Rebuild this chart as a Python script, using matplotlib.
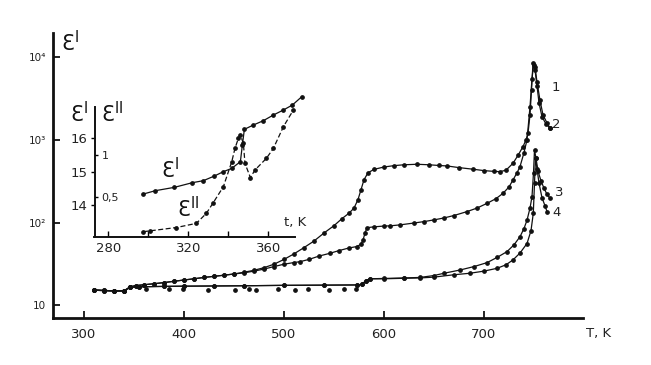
import matplotlib
matplotlib.use("Agg")
import matplotlib.pyplot as plt

# main plot: eps' (log) vs T, K
T1 = [310, 320, 330, 340, 346, 352, 360, 370, 380, 390, 400, 410, 420, 430, 440, 450, 460, 470,
      480, 490, 500, 510, 520, 530, 540, 550, 558, 565, 570, 574, 577, 580, 584, 590, 600, 610,
      620, 633, 645, 655, 663, 675, 689, 700, 710, 716, 722, 729, 734, 739, 742, 744, 746, 747.5,
      749, 751, 753, 755, 758, 762, 766]
eps1 = [15.3, 15.1, 15.0, 15.0, 16.8, 17.4, 17.8, 18.3, 18.9, 19.6, 20.3, 21.0, 21.8, 22.5, 23.2,
        24.0, 25.2, 26.6, 28.6, 31.5, 36, 42, 50, 60, 75, 92, 112, 130, 150, 190, 250, 330, 400,
        440, 470, 488, 500, 507, 500, 490, 484, 462, 442, 425, 416, 413, 430, 521, 650, 828, 1000,
        1200, 2000, 4000, 8400, 7000, 4500, 2800, 1900, 1550, 1390]

T2 = [310, 320, 330, 340, 346, 352, 360, 370, 380, 390, 400, 410, 420, 430, 440, 450, 460, 470,
      480, 490, 500, 510, 516, 525, 535, 546, 555, 565, 573, 577, 579, 581, 583, 590, 600, 606,
      616, 630, 640, 650, 660, 670, 683, 693, 703, 712, 719, 725, 729, 733, 736, 740, 743, 746,
      748, 749.5, 751, 753, 756, 759, 763, 766]
eps2 = [15.3, 15.1, 15.0, 15.0, 16.8, 17.4, 17.8, 18.3, 18.9, 19.6, 20.3, 21.0, 21.8, 22.5, 23.2,
        24.0, 24.8, 26.0, 27.5, 29.5, 31.5, 33.0, 33.8, 36, 39.5, 42.7, 46, 49.5, 51.5, 55, 61.5,
        75, 87, 89, 91, 91.5, 94, 99, 103, 108, 114, 122, 136, 150, 171, 195, 226, 270, 328, 400,
        475, 700, 1000, 2500, 5500, 8000, 7500, 5000, 3000, 2000, 1600, 1390]

T3 = [310, 320, 330, 340, 346, 355, 380, 400, 430, 460, 500, 540, 573, 578, 582, 586, 600, 620,
      636, 650, 660, 676, 690, 703, 713, 723, 730, 736, 740, 743, 746, 748, 749.5, 750.5, 752,
      754, 757, 760, 763, 766]
eps3 = [15.4, 15.2, 15.0, 15.0, 16.5, 16.8, 17.0, 17.1, 17.2, 17.3, 17.5, 17.6, 17.7, 18.0, 20.0,
        21.0, 21.2, 21.5, 21.8, 23.0, 24.5, 26.8, 29.5, 32.9, 38, 44.7, 54, 67.7, 85, 107, 150,
        206, 400, 754, 600, 420, 320, 260, 220, 197]

T4 = [310, 320, 330, 340, 346, 355, 380, 400, 430, 460, 500, 540, 573, 578, 582, 586, 600, 620,
      636, 650, 670, 686, 700, 713, 722, 729, 736, 743, 747, 749.3, 750.5, 751.5, 753, 755, 758,
      761, 763]
eps4 = [15.4, 15.2, 15.0, 15.0, 16.5, 16.8, 17.0, 17.1, 17.2, 17.3, 17.5, 17.6, 17.7, 18.0, 20.0,
        21.0, 21.0, 21.3, 21.5, 22.0, 23.5, 24.5, 26.0, 28.1, 31, 35.5, 43, 56, 80, 130, 300, 600,
        450, 300, 200, 160, 136]

# scattered points under the flat part of curves 3, 4
T_sc = [362, 385, 399, 424, 451, 465, 472, 494, 511, 524, 545, 560, 572]
eps_sc = [15.6, 16.0, 15.6, 15.5, 15.3, 16.0, 15.3, 15.6, 15.2, 15.6, 15.4, 15.8, 15.9]

curve_labels = ["1", "2", "3", "4"]
label_T = [772, 772, 775, 773]
label_eps = [4240, 1550, 229, 131]

# inset: eps' and eps'' vs t, K
t_ep = [297.5, 303.5, 313, 322, 327.5, 333, 337.5, 341.7, 346, 347, 348, 352.5, 357.5, 362.5,
        367.5, 372, 376.7]
ep = [14.33, 14.43, 14.53, 14.67, 14.73, 14.87, 15.0, 15.1, 15.3, 15.8, 16.27, 16.4, 16.53, 16.7,
      16.85, 17.0, 17.25]
t_epp = [297.5, 300.8, 314, 324, 329, 332.5, 337.5, 341.7, 343.3, 345, 346, 347.5, 348.3, 351,
         353.3, 359, 362.5, 367.5, 372.5]
epp = [0.08, 0.09, 0.13, 0.18, 0.30, 0.43, 0.62, 0.92, 1.08, 1.2, 1.24, 1.14, 0.90, 0.73, 0.82,
       0.96, 1.08, 1.34, 1.54]

ink = "#111111"
W, H = 651, 365
fig = plt.figure(figsize=(6.51, 3.65), dpi=100)
fig.patch.set_facecolor("white")

ax = fig.add_axes([53 / W, (H - 318) / H, 530 / W, 285 / H])
ax.set_yscale("log")
for T, e in [(T1, eps1), (T2, eps2), (T3, eps3), (T4, eps4)]:
    ax.plot(T, e, color=ink, lw=0.9, marker="o", ms=2.4, mfc=ink, mec=ink)
ax.plot(T_sc, eps_sc, ls="none", marker="o", ms=2.4, color=ink)
for lab, x, y in zip(curve_labels, label_T, label_eps):
    ax.text(x, y, lab, fontsize=9.5, color="#222222", ha="center", va="center", clip_on=False)

ax.set_xlim(269, 799)
ax.set_ylim(7.06, 19500)
for s in ["top", "right"]:
    ax.spines[s].set_visible(False)
for s in ["left", "bottom"]:
    ax.spines[s].set_linewidth(2.0)
    ax.spines[s].set_color(ink)
ax.set_xticks([300, 400, 500, 600, 700])
ax.set_yticks([10, 100, 1000, 10000])
ax.set_yticklabels(["10", "10²", "10³", "10⁴"])
ax.minorticks_off()
ax.tick_params(axis="x", direction="in", length=5, width=1.2, pad=7, labelsize=9.5,
               labelcolor="#222222")
ax.tick_params(axis="y", direction="in", length=5, width=1.2, pad=5, labelsize=7.5,
               labelcolor="#222222")
ax.text(1.03, -0.055, "T, K", transform=ax.transAxes, fontsize=9.5, color="#222222",
        ha="center", va="center")
ax.text(0.015, 0.965, "Ɛ$^{\\mathrm{I}}$", transform=ax.transAxes, fontsize=15, color=ink,
        ha="left", va="center")

# inset
ins = fig.add_axes([94.5 / W, (H - 236.7) / H, 200.5 / W, 129.7 / H])
ins.patch.set_alpha(0)
ins.plot(t_ep, ep, color=ink, lw=0.9, marker="o", ms=2.4, clip_on=False)
ins.set_xlim(273.1, 373.3)
ins.set_ylim(13.05, 16.94)
for s in ["top", "right"]:
    ins.spines[s].set_visible(False)
for s in ["left", "bottom"]:
    ins.spines[s].set_linewidth(1.4)
    ins.spines[s].set_color(ink)
ins.set_xticks([280, 300, 320, 340, 360])
ins.set_xticklabels(["280", "", "320", "", "360"])
ins.set_yticks([14, 15, 16])
ins.tick_params(axis="x", direction="in", length=4, width=1, pad=4, labelsize=9.5,
                labelcolor="#222222")
ins.tick_params(axis="y", direction="out", length=3, width=1, pad=2, labelsize=9.5,
                labelcolor="#222222")

ins2 = ins.twinx()
ins2.patch.set_alpha(0)
ins2.plot(t_epp, epp, color=ink, lw=0.9, ls=(0, (4, 2)), marker="o", ms=2.4, clip_on=False)
ins2.set_ylim(0.02, 1.576)
for s in ["top", "left", "bottom"]:
    ins2.spines[s].set_visible(False)
ins2.spines["right"].set_position(("axes", 0))
ins2.spines["right"].set_visible(False)
ins2.set_yticks([0.5, 1])
ins2.set_yticklabels(["0,5", "1"])
ins2.tick_params(axis="y", direction="out", length=2, width=1, pad=3, labelsize=8,
                 labelcolor="#222222")

ins.text(1.0, 0.11, "t, K", transform=ins.transAxes, fontsize=9.5, color="#222222",
         ha="center", va="center")
ins.text(-0.12, 0.95, "Ɛ$^{\\mathrm{I}}$", transform=ins.transAxes, fontsize=15, color=ink,
         ha="left", va="center")
ins.text(0.03, 0.95, "Ɛ$^{\\mathrm{II}}$", transform=ins.transAxes, fontsize=15, color=ink,
         ha="left", va="center")
ins.text(0.33, 0.52, "Ɛ$^{\\mathrm{I}}$", transform=ins.transAxes, fontsize=15, color=ink,
         ha="left", va="center")
ins.text(0.41, 0.22, "Ɛ$^{\\mathrm{II}}$", transform=ins.transAxes, fontsize=15, color=ink,
         ha="left", va="center")

fig.savefig("out.png", dpi=100, facecolor="white")
